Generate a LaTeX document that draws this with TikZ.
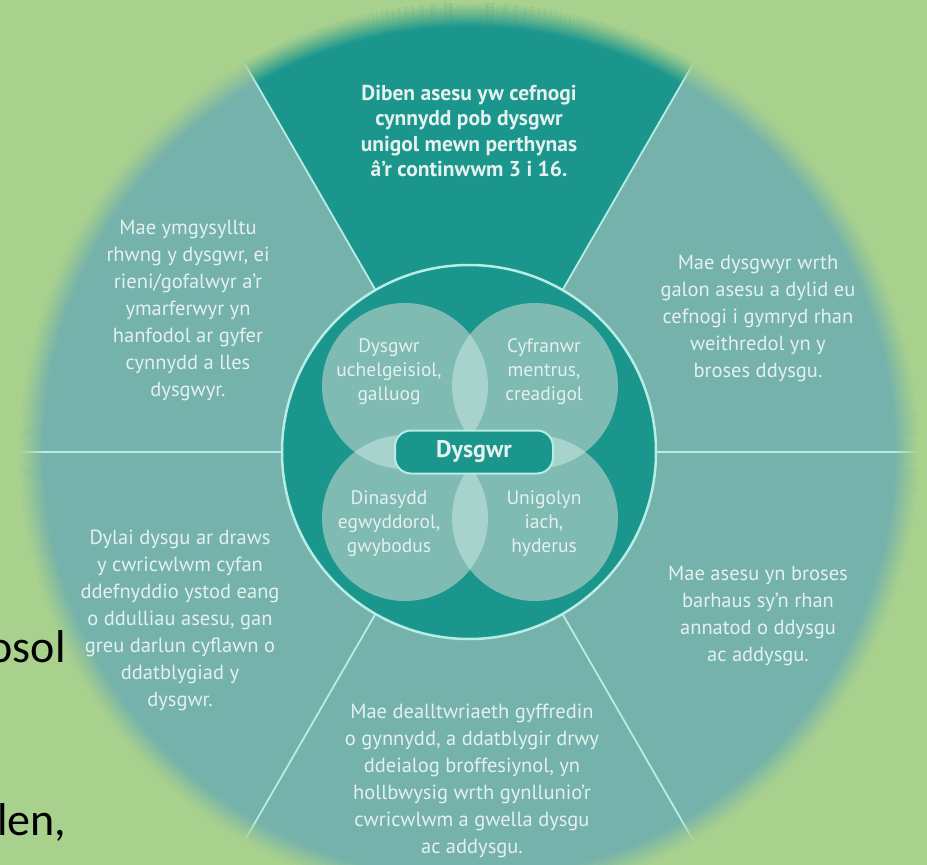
\documentclass[tikz,border=0pt]{standalone}
\usepackage{fontspec}
\setmainfont{PT Sans}
\newfontfamily\slidefont{Carlito}
\usepackage{tikz}
\usetikzlibrary{positioning}
\definecolor{bggreen}{HTML}{A9D18E}
\definecolor{tealdark}{HTML}{1A968D}
\definecolor{teallight}{HTML}{74B2AB}
\definecolor{petal}{HTML}{7FBAB3}
\definecolor{lens}{HTML}{A8D2CC}
\definecolor{rimline}{HTML}{B8ECE6}
\definecolor{paletext}{HTML}{E4F1EE}

\begin{document}
\begin{tikzpicture}[x=1pt, y=-1pt,
    sector/.style={align=center, text=paletext, inner sep=0,
        font=\fontsize{20.5}{27}\selectfont},
    petaltext/.style={align=center, text=paletext, inner sep=0,
        font=\fontsize{19.5}{24}\selectfont},
    slide/.style={inner sep=0, text=black,
        font=\slidefont\fontsize{46}{50}\selectfont}]
\useasboundingbox (0,0) rectangle (927,865);
\clip (0,0) rectangle (927,865);
\fill[bggreen] (0,0) rectangle (927,865);

\coordinate (c) at (469,452);
\fill[teallight] (c) circle (462);
\fill[tealdark] (c) -- ++(240:462) arc[start angle=240, end angle=300, radius=462] -- cycle;

\foreach \a in {0,60,...,300}
    \draw[rimline, line width=1.8pt] ([shift={(\a:187)}]c) -- ([shift={(\a:452)}]c);

% soft edge of the wheel
\foreach \i [evaluate=\i as \op using (\i+0.5)/12] in {0,...,11}
    \draw[bggreen, opacity=\op, line width=2.1pt] (c) circle (426+2*\i);
\fill[bggreen, even odd rule] (0,0) rectangle (927,865) (c) circle (449);

\draw[fill=tealdark, draw=rimline, line width=2.5pt] (c) circle (187);

\coordinate (ul) at (405,386);
\coordinate (ur) at (535,386);
\coordinate (ll) at (405,518);
\coordinate (lr) at (535,518);

\foreach \p in {ul,ur,ll,lr}
    \fill[petal] (\p) circle (83);

\foreach \p/\q in {ul/ur, ul/ll, ur/lr, ll/lr} {
    \begin{scope}
    \clip (\p) circle (83);
    \fill[lens] (\q) circle (83);
    \end{scope}
}

\node[draw=rimline, line width=2pt, fill=tealdark, rounded corners=16pt,
    minimum width=158pt, minimum height=43pt, text=paletext,
    font=\bfseries\fontsize{24}{28}\selectfont] (learner) at (474,452) {Dysgwr};

\node[petaltext] (ambitious) at (389,372) {Dysgwr\\uchelgeisiol,\\galluog};
\node[petaltext] (creative) at (544,372) {Cyfranwr\\mentrus,\\creadigol};
\node[petaltext] (citizen) at (389,524) {Dinasydd\\egwyddorol,\\gwybodus};
\node[petaltext] (healthy) at (544,524) {Unigolyn\\iach,\\hyderus};

\node[sector, font=\bfseries\fontsize{21.5}{25.5}\selectfont] (aim) at (469,131)
    {Diben asesu yw cefnogi\\cynnydd pob dysgwr\\unigol mewn perthynas\\â'r continwwm 3 i 16.};
\node[sector] (links) at (188,310)
    {Mae ymgysylltu\\rhwng y dysgwr, ei\\rieni/gofalwyr a'r\\ymarferwyr yn\\hanfodol ar gyfer\\cynnydd a lles\\dysgwyr.};
\node[sector] (centre) at (758,318)
    {Mae dysgwyr wrth\\galon asesu a dylid eu\\cefnogi i gymryd rhan\\weithredol yn y\\broses ddysgu.};
\node[sector] (ongoing) at (758,616)
    {Mae asesu yn broses\\barhaus sy'n rhan\\annatod o ddysgu\\ac addysgu.};
\node[sector] (shared) at (472,781)
    {Mae dealltwriaeth gyffredin\\o gynnydd, a ddatblygir drwy\\ddeialog broffesiynol, yn\\hollbwysig wrth gynllunio'r\\cwricwlwm a gwella dysgu\\ac addysgu.};
\node[sector] (range) at (180,620)
    {Dylai dysgu ar draws\\y cwricwlwm cyfan\\ddefnyddio ystod eang\\o ddulliau asesu, gan\\greu darlun cyflawn o\\ddatblygiad y\\dysgwr.};

\node[slide, anchor=base east] (cutsol) at (66,662) {osol};
\node[slide, anchor=base west] (cutlen) at (-3,835) {len,};
\end{tikzpicture}
\end{document}
